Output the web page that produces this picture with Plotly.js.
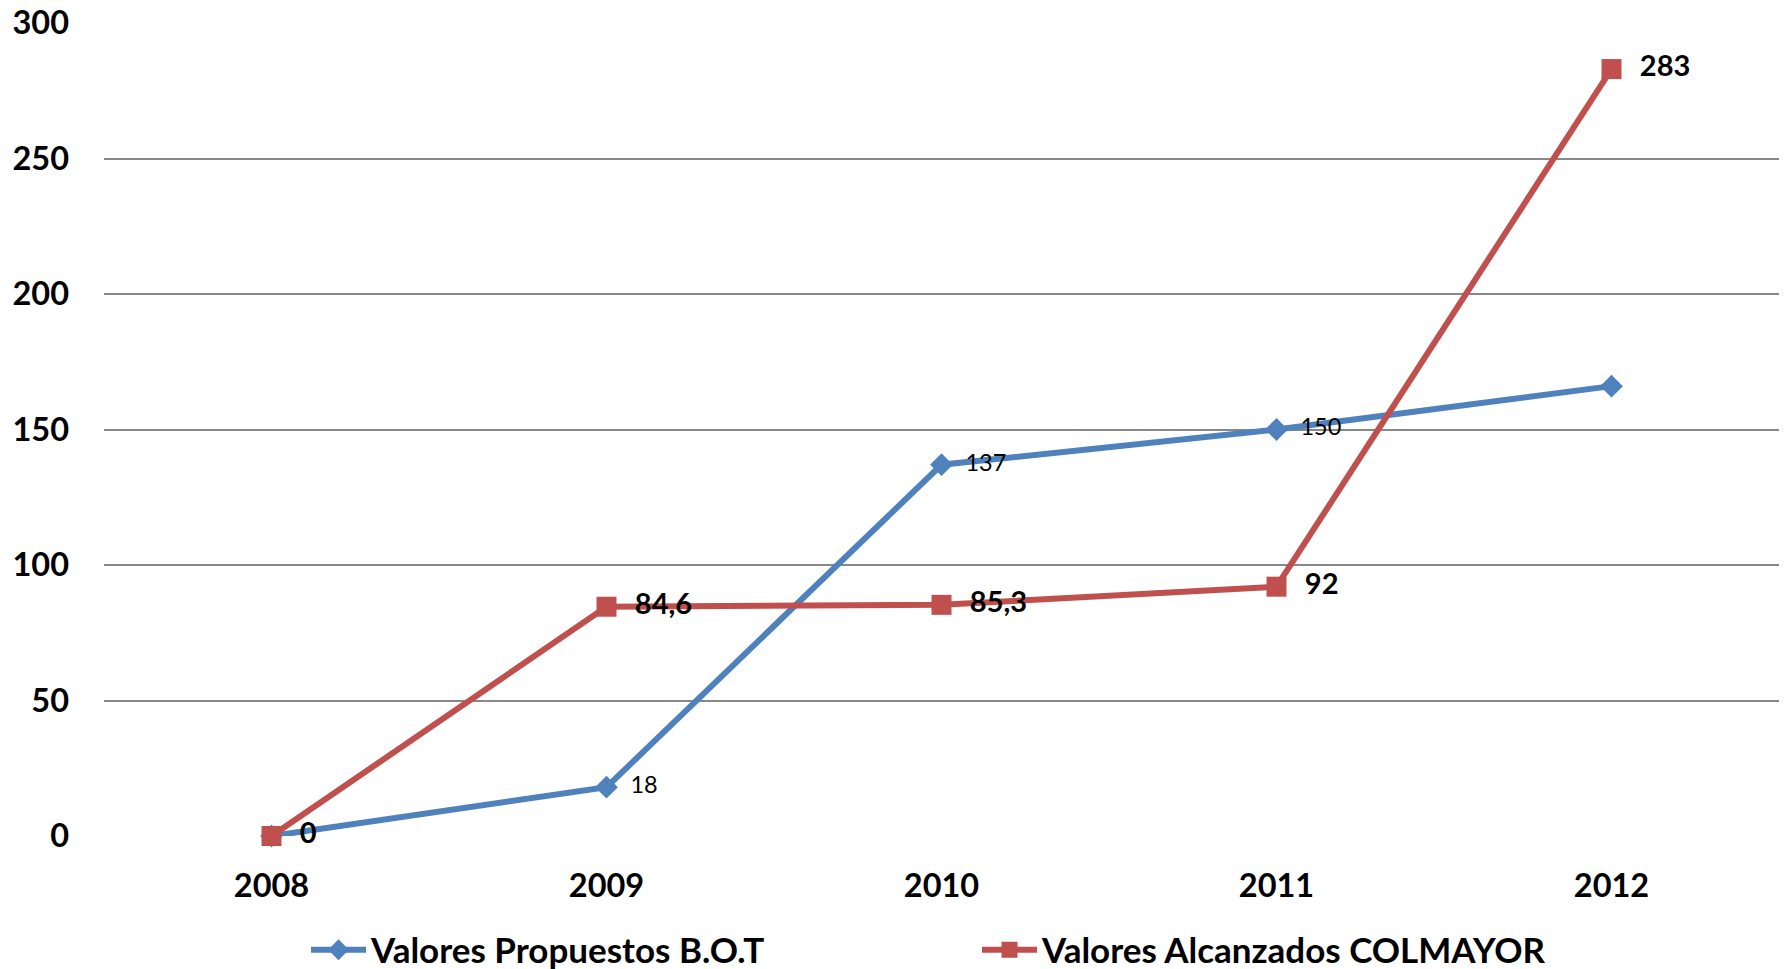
<!DOCTYPE html>
<html>
<head>
<meta charset="utf-8">
<script src="https://cdn.plot.ly/plotly-3.0.1.min.js"></script>
<style>
html,body{margin:0;padding:0;background:#fff;}
#chart{width:1786px;height:969px;}
</style>
</head>
<body>
<div id="chart"></div>
<script>
const years = ["2008", "2009", "2010", "2011", "2012"];
const propuestos = [0, 18, 137, 150, 166];
const propuestosLabels = ["", "18", "137", "150", ""];
const alcanzados = [0, 84.6, 85.3, 92, 283];
const alcanzadosLabels = ["0", "84,6", "85,3", "92", "283"];
const yTicks = [0, 50, 100, 150, 200, 250, 300];

const FONT = "Lato, 'Open Sans', sans-serif";
const PAD = "\u00A0\u00A0";

const traces = [
  {
    x: years, y: propuestos, name: "<b>Valores Propuestos B.O.T</b>",
    type: "scatter", mode: "lines+markers+text",
    text: propuestosLabels.map(t => t ? PAD + t : ""), textposition: "middle right",
    textfont: {family: FONT, size: 23.5, color: "#000"},
    line: {color: "#4F81BD", width: 6},
    marker: {symbol: "diamond", size: 17.5, color: "#4F81BD"},
    cliponaxis: false
  },
  {
    x: years, y: alcanzados, name: "<b>Valores Alcanzados COLMAYOR</b>",
    type: "scatter", mode: "lines+markers+text",
    text: alcanzadosLabels.map(t => PAD + "<b>" + t + "</b>"), textposition: "middle right",
    textfont: {family: FONT, size: 29, color: "#000"},
    line: {color: "#C0504D", width: 6},
    marker: {symbol: "square", size: 20, color: "#C0504D"},
    cliponaxis: false
  }
];

const layout = {
  width: 1786, height: 969,
  margin: {l: 104, r: 7, t: 23, b: 133},
  paper_bgcolor: "#fff", plot_bgcolor: "#fff",
  font: {family: FONT, color: "#000"},
  showlegend: true,
  legend: {
    orientation: "h", x: 0.1206, xanchor: "left",
    yref: "container", y: 0.0196, yanchor: "middle",
    font: {family: FONT, size: 35, color: "#000"},
    itemwidth: 55, traceorder: "normal", entrywidth: 601
  },
  xaxis: {
    type: "category", range: [-0.5, 4.5],
    showgrid: false, zeroline: false, showline: false,
    ticks: "", ticklabelstandoff: 27,
    tickfont: {family: FONT, size: 32.5, color: "#000", weight: "bold"},
    fixedrange: true
  },
  yaxis: {
    range: [0, 300], tickvals: yTicks,
    showgrid: true, gridcolor: "#888888", gridwidth: 2,
    zeroline: false, showline: false, ticks: "",
    ticklabelstandoff: 34,
    tickfont: {family: FONT, size: 32.5, color: "#000", weight: "bold"},
    fixedrange: true
  }
};

Plotly.newPlot("chart", traces, layout, {displayModeBar: false, staticPlot: true});
</script>
</body>
</html>
